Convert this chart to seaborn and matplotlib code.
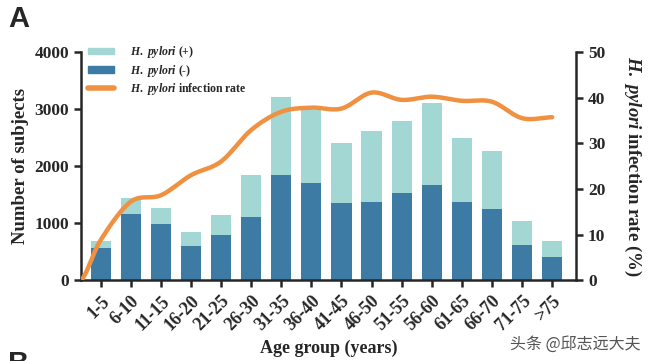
import numpy as np
import pandas as pd
import matplotlib
matplotlib.use("Agg")
import matplotlib.pyplot as plt
import seaborn as sns
from matplotlib.patches import Patch
from matplotlib.lines import Line2D

# data
age_groups = ["1-5", "6-10", "11-15", "16-20", "21-25", "26-30", "31-35", "36-40",
              "41-45", "46-50", "51-55", "56-60", "61-65", "66-70", "71-75", ">75"]
total_subjects = [687, 1446, 1259, 839, 1142, 1848, 3217, 2984,
                  2413, 2622, 2797, 3107, 2500, 2261, 1031, 687]
negative_subjects = [565, 1166, 979, 606, 787, 1107, 1836, 1701,
                     1358, 1369, 1526, 1673, 1369, 1247, 617, 408]
infection_rate = [8.8, 17.2, 18.6, 23.0, 26.0, 32.9, 36.9, 37.8,
                  37.6, 41.1, 39.5, 40.2, 39.3, 39.1, 35.5, 35.7]
rate_start = 0.0  # curve starts at 0 on the left axis

light = "#a3d7d3"
dark = "#3d7ba5"
orange = "#ef9140"

sns.set_style("ticks")
plt.rcParams["font.family"] = ["Liberation Serif", "DejaVu Serif"]
plt.rcParams["font.weight"] = "bold"
plt.rcParams["mathtext.fontset"] = "custom"
plt.rcParams["mathtext.it"] = "Liberation Serif:italic:bold"
plt.rcParams["mathtext.rm"] = "Liberation Serif:bold"


def smooth(xs, ys, n=20):  # catmull-rom curve for drawing only
    xs, ys = np.asarray(xs, float), np.asarray(ys, float)
    px = np.concatenate([[2 * xs[0] - xs[1]], xs, [2 * xs[-1] - xs[-2]]])
    py = np.concatenate([[ys[0]], ys, [ys[-1]]])
    ox, oy = [], []
    for i in range(1, len(px) - 2):
        t = np.linspace(0, 1, n, endpoint=False)
        for p, out in ((px, ox), (py, oy)):
            p0, p1, p2, p3 = p[i - 1], p[i], p[i + 1], p[i + 2]
            out.extend(0.5 * ((2 * p1) + (-p0 + p2) * t
                              + (2 * p0 - 5 * p1 + 4 * p2 - p3) * t ** 2
                              + (-p0 + 3 * p1 - 3 * p2 + p3) * t ** 3))
    ox.append(xs[-1])
    oy.append(ys[-1])
    return np.array(ox), np.array(oy)


df = pd.DataFrame({"group": age_groups, "total": total_subjects,
                   "neg": negative_subjects})

fig = plt.figure(figsize=(6.6, 3.61), dpi=100)
ax = fig.add_axes([0.123, 0.224, 0.750, 0.632])

sns.barplot(data=df, x="group", y="total", color=light, saturation=1,
            width=0.67, linewidth=0, ax=ax)
sns.barplot(data=df, x="group", y="neg", color=dark, saturation=1,
            width=0.67, linewidth=0, ax=ax)

x_start = -0.65
ax.set_xlim(x_start, 15.8)
ax.set_ylim(0, 4000)
ax.set_yticks([0, 1000, 2000, 3000, 4000])
ax.set_ylabel("Number of subjects", fontsize=13.5, fontweight="bold", labelpad=4)
ax.set_xlabel("Age group (years)", fontsize=13, fontweight="bold", labelpad=4)
ax.tick_params(axis="y", labelsize=12.5, width=1.8, length=5)
ax.tick_params(axis="x", labelsize=13, width=1.8, length=5, pad=4)
for lab in ax.get_xticklabels():
    lab.set_rotation(45)
    lab.set_ha("right")
    lab.set_rotation_mode("anchor")
for lab in ax.get_yticklabels() + ax.get_xticklabels():
    lab.set_fontweight("bold")
for s in ["left", "bottom"]:
    ax.spines[s].set_linewidth(1.8)
sns.despine(ax=ax, top=True, right=True)

ax2 = ax.twinx()
cx, cy = smooth([x_start] + list(range(len(age_groups))),
                [rate_start] + infection_rate)
sns.lineplot(x=cx, y=cy, color=orange, linewidth=3.2, ax=ax2, sort=False)
ax2.set_ylim(0, 50)
ax2.set_yticks([0, 10, 20, 30, 40, 50])
ax2.tick_params(axis="y", labelsize=12.5, width=1.8, length=5)
for lab in ax2.get_yticklabels():
    lab.set_fontweight("bold")
ax2.spines["right"].set_linewidth(1.8)
ax2.spines["left"].set_visible(False)
ax2.spines["top"].set_visible(False)
ax2.spines["bottom"].set_visible(False)
ax2.set_ylabel(r"$\mathit{H.\ pylori}$ infection rate (%)", fontsize=13.5,
               fontweight="bold", rotation=270, labelpad=27)

handles = [Patch(color=light), Patch(color=dark),
           Line2D([0], [0], color=orange, linewidth=4)]
labels = [r"$\mathit{H.\ pylori}$ (+)", r"$\mathit{H.\ pylori}$ (-)",
          r"$\mathit{H.\ pylori}$ infection rate"]
ax2.legend(handles, labels, loc="upper left", bbox_to_anchor=(0.005, 1.055),
           borderaxespad=0, frameon=False,
           prop={"size": 8.5, "weight": "bold"}, handlelength=2.2,
           handleheight=0.5, labelspacing=0.2, handletextpad=1.3)

fig.text(0.012, 0.985, "A", fontsize=21, fontweight="bold", va="top",
         family="Liberation Sans")
fig.text(0.012, 0.03, "B", fontsize=21, fontweight="bold", va="top",
         family="Liberation Sans")
fig.text(0.772, 0.035, "头条 @邱志远大夫", fontsize=11.5, color="#555555",
         fontweight="normal", family=["Noto Sans CJK SC", "DejaVu Sans"])

fig.savefig("out.png", dpi=100)
